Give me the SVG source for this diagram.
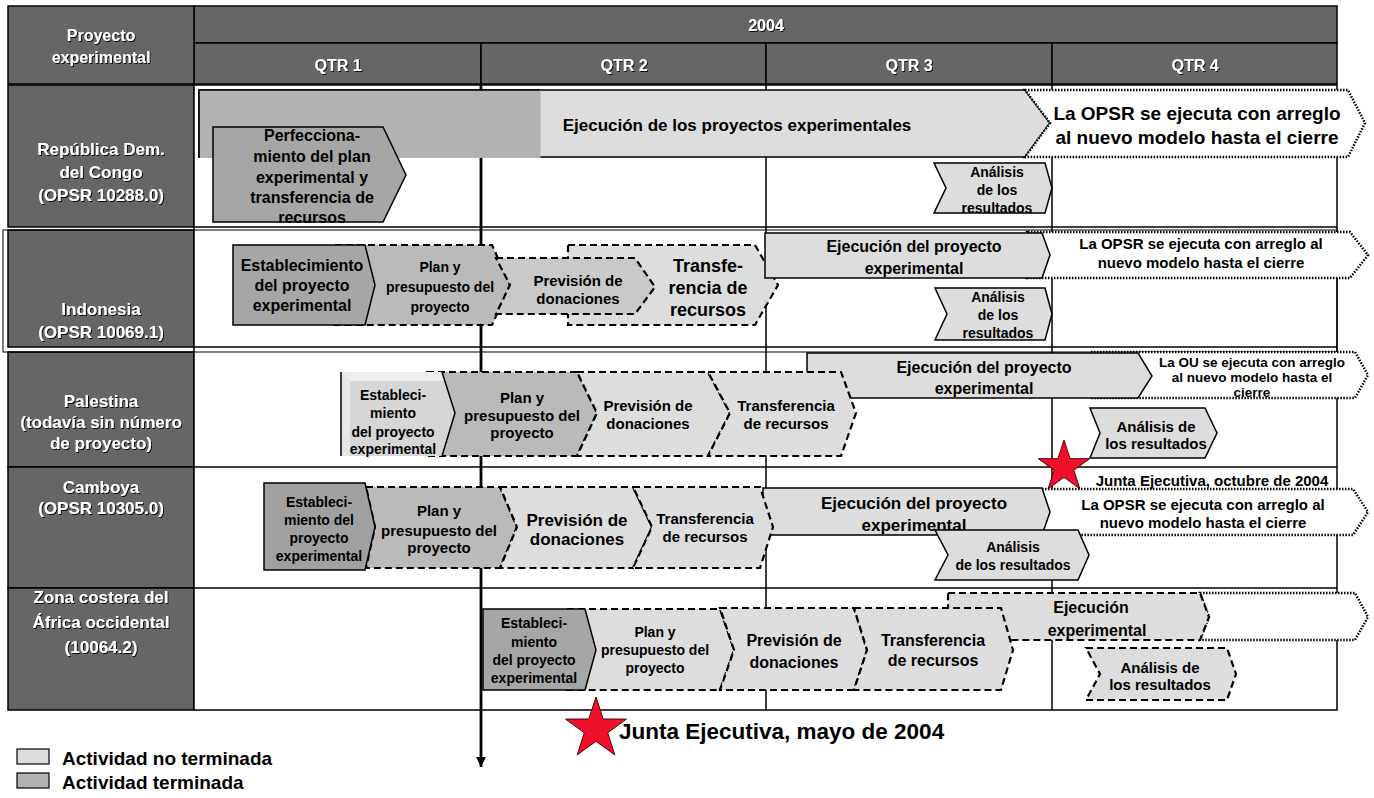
<svg xmlns="http://www.w3.org/2000/svg" width="1374" height="798" viewBox="0 0 1374 798">
<defs>
<style>
.cell{fill:#666;stroke:#000;stroke-width:1.5}
.hd{font-family:"Liberation Sans",Arial,sans-serif;font-weight:bold;font-size:16px;fill:#fff;text-anchor:middle;dominant-baseline:central}
.rw{font-size:17px}
.t{font-family:"Liberation Sans",Arial,sans-serif;font-weight:bold;fill:#000;text-anchor:middle;dominant-baseline:central}
.l{text-anchor:start}
.f13{font-size:13.5px}.f14{font-size:14px}.f15{font-size:15px}.f16{font-size:16px}.f17{font-size:17px}.f18{font-size:18px}.f19{font-size:19px}.f22{font-size:22.5px}
.grid{stroke:#000;stroke-width:1.5;fill:none}
.solid{stroke:#000;stroke-width:1.5}
.dash{stroke:#000;stroke-width:2.2;stroke-dasharray:7 4}
.dot{fill:#fff;stroke:#000;stroke-width:2.5;stroke-dasharray:1.5 1.5}
.dk{fill:#a6a6a6}.md{fill:#bababa}.lt{fill:#dddddd}
.star{fill:#f0102c;stroke:#500;stroke-width:1}
</style>
<filter id="sh" x="-5%" y="-20%" width="110%" height="140%"><feDropShadow dx="1" dy="1" stdDeviation="0.3" flood-color="#000" flood-opacity="0.9"/></filter>
<marker id="ah" markerUnits="userSpaceOnUse" markerWidth="12" markerHeight="12" refX="10" refY="6" orient="auto"><path d="M0,1 L10,6 L0,11 Z" fill="#000"/></marker>
</defs>
<rect width="1374" height="798" fill="#fff"/>

<g id="table">
<rect class="cell" x="194" y="6" width="1143" height="37"/>
<rect class="cell" x="194" y="43" width="287" height="41"/>
<rect class="cell" x="481" y="43" width="285" height="41"/>
<rect class="cell" x="766" y="43" width="286" height="41"/>
<rect class="cell" x="1052" y="43" width="285" height="41"/>
<rect class="cell" x="8" y="6" width="186" height="78"/>
<rect class="cell" x="8" y="85" width="186" height="142"/>
<rect class="cell" x="8" y="230" width="186" height="117"/>
<rect class="cell" x="8" y="352" width="186" height="115"/>
<rect class="cell" x="8" y="467" width="186" height="121"/>
<rect class="cell" x="8" y="588" width="186" height="122"/>
<rect x="194" y="85" width="1143" height="625" fill="#fff" stroke="#000" stroke-width="1.5"/>
<rect x="3" y="230" width="1334" height="122" fill="none" stroke="#000" stroke-width="1"/>
<path class="grid" d="M194,227H1337 M194,347H1337 M194,467H1337 M194,588H1337 M766,85V710 M1052,85V710"/>
<g filter="url(#sh)">
<text class="hd"><tspan x="101" y="35">Proyecto</tspan><tspan x="101" y="57">experimental</tspan></text>
<text class="hd" x="766" y="25">2004</text>
<text class="hd" x="338" y="65">QTR 1</text>
<text class="hd" x="624" y="65">QTR 2</text>
<text class="hd" x="909" y="65">QTR 3</text>
<text class="hd" x="1195" y="65">QTR 4</text>
<text class="hd rw"><tspan x="101" y="149">República Dem.</tspan><tspan x="101" y="172">del Congo</tspan><tspan x="101" y="195">(OPSR 10288.0)</tspan></text>
<text class="hd rw"><tspan x="101" y="309">Indonesia</tspan><tspan x="101" y="332">(OPSR 10069.1)</tspan></text>
<text class="hd rw"><tspan x="101" y="401">Palestina</tspan><tspan x="101" y="422">(todavía sin número</tspan><tspan x="101" y="443">de proyecto)</tspan></text>
<text class="hd rw"><tspan x="101" y="487">Camboya</tspan><tspan x="101" y="508">(OPSR 10305.0)</tspan></text>
<text class="hd rw"><tspan x="101" y="597">Zona costera del</tspan><tspan x="101" y="622">África occidental</tspan><tspan x="101" y="647">(10064.2)</tspan></text>
</g>
</g>

<g id="connectors">
<line x1="481" y1="85" x2="481" y2="767" stroke="#000" stroke-width="2.8" marker-end="url(#ah)"/>
</g>

<g id="congo">
<path class="lt solid" d="M199,90 L1025,90 L1050,123 L1025,157 L199,157 Z"/>
<rect x="199.5" y="90" width="341" height="68" fill="#b2b2b2"/>
<path d="M199,158 V90 H540" fill="none" stroke="#000" stroke-width="1.5"/>
<text class="t f17" x="737" y="125">Ejecución de los proyectos experimentales</text>
<path class="dot" d="M1025,90 L1348,90 L1365,123 L1348,157 L1025,157 L1050,123 Z"/>
<text class="t f19"><tspan x="1197" y="113">La OPSR se ejecuta con arreglo</tspan><tspan x="1197" y="137">al nuevo modelo hasta el cierre</tspan></text>
<path class="dk solid" d="M213,127 L383,127 L406,175 L383,222 L213,222 Z"/>
<text class="t f16"><tspan x="312" y="135">Perfecciona-</tspan><tspan x="312" y="156">miento del plan</tspan><tspan x="312" y="177">experimental y</tspan><tspan x="312" y="197">transferencia de</tspan><tspan x="312" y="217">recursos</tspan></text>
<path class="lt solid" d="M934,163 L1045,163 L1052,188 L1045,213 L934,213 L946,188 Z"/>
<text class="t f14"><tspan x="997" y="172">Análisis</tspan><tspan x="997" y="190">de los</tspan><tspan x="997" y="208">resultados</tspan></text>
</g>

<g id="indonesia">
<path class="md dash" d="M335,245 L492,245 L510,285 L492,325 L335,325 Z"/>
<path class="dk solid" d="M233,245 L365,245 L375,285 L365,325 L233,325 Z"/>
<text class="t f16"><tspan x="302" y="265">Establecimiento</tspan><tspan x="302" y="285">del proyecto</tspan><tspan x="302" y="305">experimental</tspan></text>
<text class="t f14"><tspan x="440" y="267">Plan y</tspan><tspan x="440" y="287">presupuesto del</tspan><tspan x="440" y="307">proyecto</tspan></text>
<path class="lt dash" d="M568,245 L755,245 L778,285 L755,325 L568,325 Z"/>
<path class="dash" fill="#c9c9c9" d="M496,258 L635,258 L655,287 L635,314 L496,314 L510,285 Z"/>
<text class="t f15"><tspan x="578" y="280">Previsión de</tspan><tspan x="578" y="298">donaciones</tspan></text>
<text class="t f18"><tspan x="708" y="266">Transfe-</tspan><tspan x="708" y="288">rencia de</tspan><tspan x="708" y="310">recursos</tspan></text>
<path class="dot" d="M1028,232 L1350,232 L1368,255 L1350,278 L1028,278 L1050,255 Z"/>
<text class="t f15"><tspan x="1201" y="243">La OPSR se ejecuta con arreglo al</tspan><tspan x="1201" y="262">nuevo modelo hasta el cierre</tspan></text>
<path class="lt solid" d="M765,233 L1042,233 L1050,255 L1042,278 L765,278 Z"/>
<text class="t f16"><tspan x="914" y="246">Ejecución del proyecto</tspan><tspan x="914" y="268">experimental</tspan></text>
<path class="lt solid" d="M935,288 L1045,288 L1052,314 L1045,340 L935,340 L947,314 Z"/>
<text class="t f14"><tspan x="998" y="297">Análisis</tspan><tspan x="998" y="315">de los</tspan><tspan x="998" y="333">resultados</tspan></text>
</g>

<g id="palestina">
<path class="dot" d="M1091,352 L1355,352 L1368,375 L1355,398 L1091,398 Z"/>
<text class="t f13"><tspan x="1252" y="362">La OU se ejecuta con arreglo</tspan><tspan x="1252" y="377">al nuevo modelo hasta el</tspan><tspan x="1252" y="392">cierre</tspan></text>
<path class="lt solid" d="M807,353 L1138,353 L1152,376 L1138,398 L807,398 Z"/>
<text class="t f16"><tspan x="984" y="367">Ejecución del proyecto</tspan><tspan x="984" y="388">experimental</tspan></text>
<path class="md dash" d="M427,372 L577,372 L597,413 L577,456 L427,456 Z"/>
<path fill="#d6d6d6" d="M341,372 L442,372 L455,413 L442,456 L341,456 Z"/>
<path fill="#ededed" d="M341,372 L442,372 L445,381 L350,381 Z"/>
<path fill="#e6e6e6" d="M341,372 L350,381 L350,456 L341,456 Z"/>
<path fill="none" stroke="#000" stroke-width="1.5" d="M341,372 V456 M442,372 L455,413 L442,456"/>
<text class="t f14"><tspan x="393" y="395">Estableci-</tspan><tspan x="393" y="413">miento</tspan><tspan x="393" y="432">del proyecto</tspan><tspan x="393" y="449">experimental</tspan></text>
<text class="t f15"><tspan x="522" y="397">Plan y</tspan><tspan x="522" y="415">presupuesto del</tspan><tspan x="522" y="432">proyecto</tspan></text>
<path class="lt dash" d="M577,372 L708,372 L730,413 L708,456 L577,456 L597,413 Z"/>
<text class="t f15"><tspan x="648" y="405">Previsión de</tspan><tspan x="648" y="423">donaciones</tspan></text>
<path class="lt dash" d="M708,372 L841,372 L856,413 L841,456 L708,456 L730,413 Z"/>
<text class="t f15"><tspan x="786" y="405">Transferencia</tspan><tspan x="786" y="423">de recursos</tspan></text>
<path class="lt solid" d="M1090,408 L1205,408 L1217,433 L1205,458 L1090,458 L1100,433 Z"/>
<text class="t f15"><tspan x="1156" y="426">Análisis de</tspan><tspan x="1156" y="443">los resultados</tspan></text>
</g>

<g id="camboya">
<path class="dot" d="M1030,489 L1353,489 L1368,512 L1353,535 L1030,535 Z"/>
<text class="t f15"><tspan x="1203" y="504">La OPSR se ejecuta con arreglo al</tspan><tspan x="1203" y="522">nuevo modelo hasta el cierre</tspan></text>
<path class="lt solid" d="M763,488 L1042,488 L1050,512 L1042,535 L763,535 Z"/>
<text class="t f17"><tspan x="914" y="503">Ejecución del proyecto</tspan><tspan x="914" y="525">experimental</tspan></text>
<path class="md dash" d="M366,487 L500,487 L517,527 L500,568 L366,568 L375,527 Z"/>
<path class="solid" fill="#a0a0a0" d="M264,483 L365,483 L375,527 L365,570 L264,570 Z"/>
<text class="t f14"><tspan x="319" y="502">Estableci-</tspan><tspan x="319" y="520">miento del</tspan><tspan x="319" y="538">proyecto</tspan><tspan x="319" y="556">experimental</tspan></text>
<text class="t f15"><tspan x="439" y="510">Plan y</tspan><tspan x="439" y="530">presupuesto del</tspan><tspan x="439" y="547">proyecto</tspan></text>
<path class="lt dash" d="M500,487 L633,487 L652,527 L633,568 L500,568 L517,527 Z"/>
<text class="t f17"><tspan x="577" y="520">Previsión de</tspan><tspan x="577" y="539">donaciones</tspan></text>
<path class="lt dash" d="M633,487 L760,487 L773,527 L760,568 L633,568 L652,527 Z"/>
<text class="t f15"><tspan x="705" y="518">Transferencia</tspan><tspan x="705" y="536">de recursos</tspan></text>
<path class="lt solid" d="M935,530 L1078,530 L1089,555 L1078,580 L935,580 L948,555 Z"/>
<text class="t f14"><tspan x="1013" y="547">Análisis</tspan><tspan x="1013" y="565">de los resultados</tspan></text>
</g>

<g id="zona">
<path class="dot" d="M1200,593 L1355,593 L1368,617 L1355,640 L1200,640 L1209,617 Z"/>
<path class="lt dash" d="M948,593 L1200,593 L1209,617 L1200,640 L948,640 Z"/>
<text class="t f16"><tspan x="1091" y="607">Ejecución</tspan><tspan x="1097" y="630">experimental</tspan></text>
<path class="lt dash" d="M567,609 L720,609 L734,650 L720,690 L567,690 Z"/>
<path class="dk solid" d="M483,609 L585,609 L596,650 L585,690 L483,690 Z"/>
<text class="t f14"><tspan x="534" y="623">Estableci-</tspan><tspan x="534" y="642">miento</tspan><tspan x="534" y="660">del proyecto</tspan><tspan x="534" y="678">experimental</tspan></text>
<text class="t f14"><tspan x="655" y="632">Plan y</tspan><tspan x="655" y="650">presupuesto del</tspan><tspan x="655" y="668">proyecto</tspan></text>
<path class="lt dash" d="M720,608 L854,608 L867,650 L854,690 L720,690 L734,650 Z"/>
<text class="t f16"><tspan x="794" y="640">Previsión de</tspan><tspan x="794" y="662">donaciones</tspan></text>
<path class="lt dash" d="M854,608 L1001,608 L1013,650 L1001,690 L854,690 L867,650 Z"/>
<text class="t f16"><tspan x="933" y="640">Transferencia</tspan><tspan x="933" y="660">de recursos</tspan></text>
<path class="lt dash" d="M1086,648 L1227,648 L1236,674 L1227,700 L1086,700 L1100,674 Z"/>
<text class="t f15"><tspan x="1160" y="667">Análisis de</tspan><tspan x="1160" y="684">los resultados</tspan></text>
</g>

<g id="junta-octubre">
<path class="star" d="M1064,440 L1070.1,458.7 L1089.7,458.7 L1073.8,470.2 L1079.9,488.8 L1064,477.3 L1048.1,488.8 L1054.2,470.2 L1038.3,458.7 L1057.9,458.7 Z"/>
<text class="t f15" x="1212" y="480">Junta Ejecutiva, octubre de 2004</text>
</g>

<g id="junta-mayo">
<path class="star" d="M596,697 L603.2,719 L626.4,719.1 L607.7,732.8 L614.8,754.9 L596,741.3 L577.2,754.9 L584.3,732.8 L565.6,719.1 L588.8,719 Z"/>
<text class="t f22 l" x="619" y="731">Junta Ejecutiva, mayo de 2004</text>
</g>

<g id="legend">
<rect x="17" y="749" width="32" height="15" fill="#dddddd" stroke="#000" stroke-width="1.2"/>
<text class="t f19 l" x="62" y="758">Actividad no terminada</text>
<rect x="17" y="773" width="32" height="15" fill="#b2b2b2" stroke="#000" stroke-width="1.2"/>
<text class="t f19 l" x="62" y="782">Actividad terminada</text>
</g>
</svg>
